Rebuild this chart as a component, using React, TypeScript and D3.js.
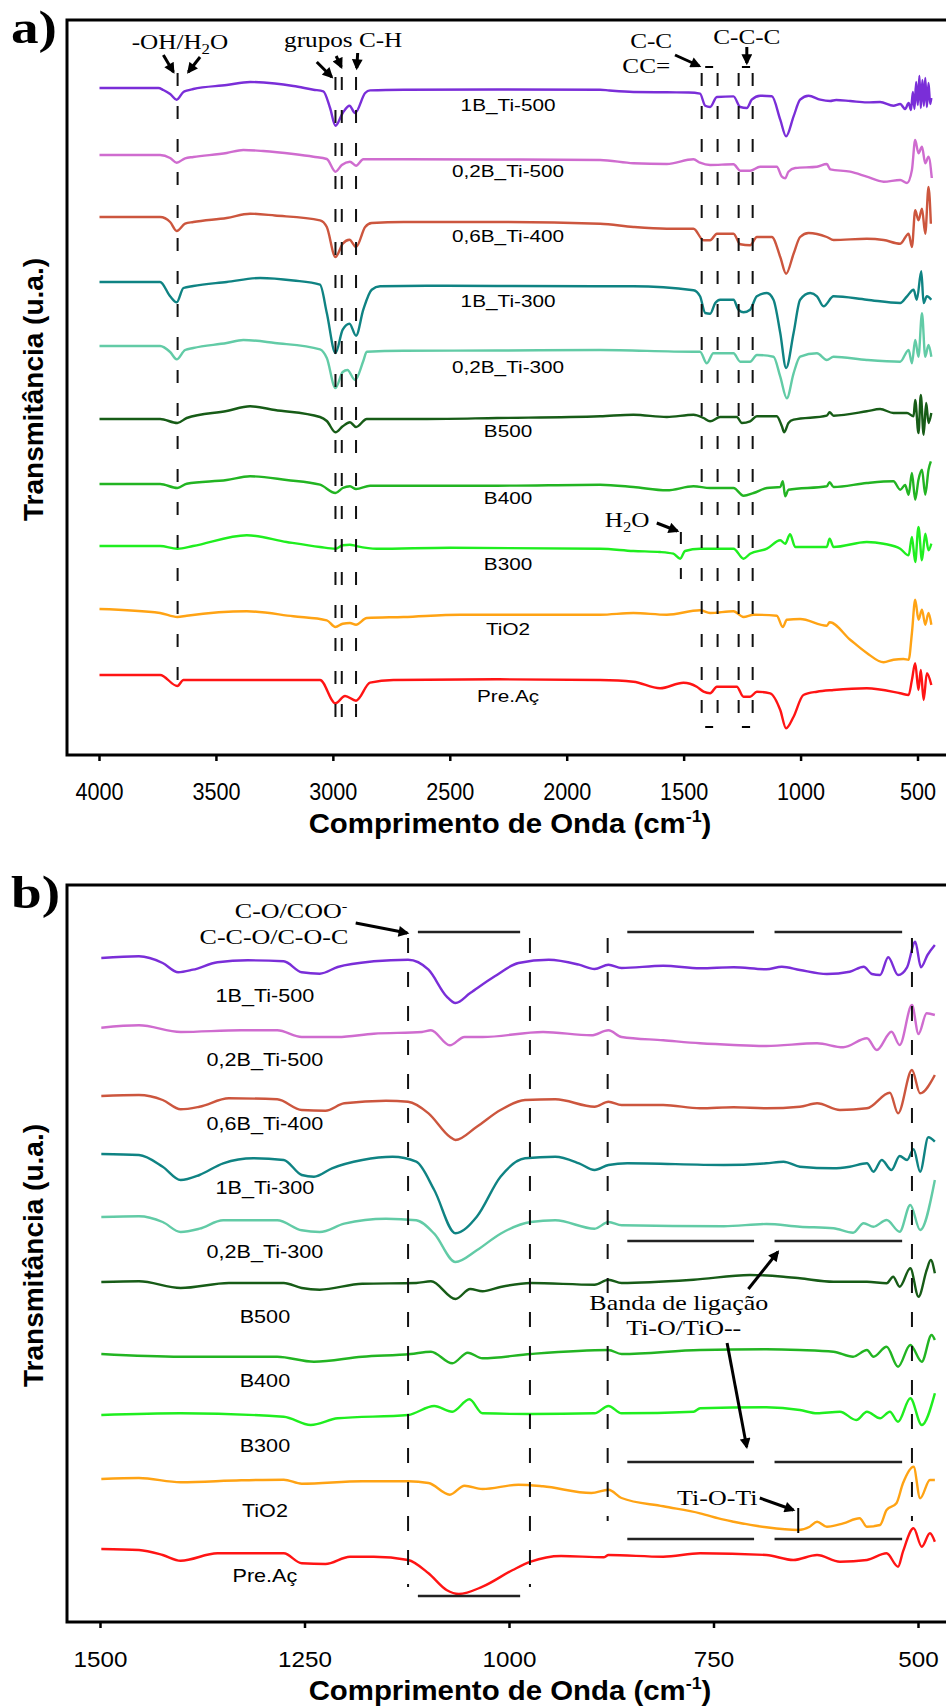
import React from "react";
import * as d3 from "d3";

const W = 946;
const H = 1708;

// sample names, top to bottom, and their line colours
const names = ["1B_Ti-500", "0,2B_Ti-500", "0,6B_Ti-400", "1B_Ti-300", "0,2B_Ti-300", "B500", "B400", "B300", "TiO2", "Pre.Aç"];
const colors = ["#7a2ed8", "#cf6ccf", "#cc563e", "#0f8383", "#62cba6", "#175c17", "#22b422", "#1fee1f", "#ffa314", "#ff1414"];

// vertical stacking offsets (a.u.) of each spectrum
const offsetsA = [667, 600, 538, 473, 409, 336, 271, 209, 146, 80];
const offsetsB = [664, 595, 526, 467, 405, 340, 268, 207, 143, 73];

const ticksA = [4000, 3500, 3000, 2500, 2000, 1500, 1000, 500];
const ticksB = [1500, 1250, 1000, 750, 500];

// panel a: [wavenumber cm-1, transmittance change a.u.]
const spectraA: [number, number][][] = [
  [[4000,0],[3748,0],[3727,-2],[3698,-6],[3670,-11.7],[3641,-4],[3627,-2.7],[3599,-1],[3456,3],[3356,6],[3250,4.5],[3171,2],[3085,-1.7],[3043,-3.3],[3014,-20],[2991,-37.7],[2960,-25],[2931,-17.7],[2907,-25],[2864,-5],[2843,-2.4],[2700,-1.7],[2300,-1.5],[1860,-1.7],[1820,-2.5],[1717,-4],[1574,-4.3],[1480,-4.5],[1432,-5.7],[1410,-17.7],[1389,-19],[1360,-9],[1289,-8.4],[1260,-19],[1232,-20],[1211,-11.7],[1175,-7.7],[1125,-8.3],[1089,-31.7],[1064,-48.4],[1032,-28.4],[1004,-11.7],[968,-7.7],[918,-11.7],[876,-13],[850,-12],[790,-13],[719,-14.4],[662,-14],[605,-17.7],[576,-16],[555,-21],[540,-15],[530,-22],[522,-4],[515,-21],[508,6],[501,-17],[494,12],[488,-20],[481,8],[475,-18],[469,10],[462,-19],[455,5],[448,-16],[443,-10]],
  [[4000,0],[3741,0],[3698,-3],[3670,-7.7],[3634,-3.3],[3599,-2],[3456,2],[3385,5],[3300,4],[3171,1],[3085,-1.7],[3028,-4],[2991,-16.7],[2964,-10],[2929,-6.7],[2903,-10.7],[2872,-4.3],[2700,-4.3],[2300,-4.5],[1859,-5],[1717,-8.3],[1574,-9],[1460,-4.3],[1432,-7.7],[1389,-10],[1289,-9.3],[1260,-15.7],[1218,-15.7],[1175,-11.7],[1104,-11.7],[1082,-21.7],[1068,-23.3],[1054,-16.7],[1025,-13],[932,-11.7],[890,-9],[875,-14.3],[790,-16.7],[719,-21.7],[647,-26.7],[576,-25],[547,-28],[526,-15],[512,15],[498,1.7],[483,8.3],[469,-8.3],[455,-1.7],[441,-23]],
  [[4000,0],[3741,0],[3698,-5],[3670,-14],[3634,-6.7],[3599,-5],[3456,-1],[3356,3.3],[3250,1.5],[3057,-3.3],[3028,-10],[2991,-40],[2960,-26.7],[2931,-22.7],[2903,-30],[2864,-10],[2836,-6],[2700,-5],[2300,-5],[1859,-6.7],[1717,-10],[1574,-11.7],[1460,-11.7],[1417,-23.3],[1389,-23.3],[1360,-16.7],[1289,-16.7],[1260,-27.3],[1218,-28.3],[1189,-20],[1125,-20],[1089,-40],[1064,-56.7],[1032,-36.7],[1004,-20],[968,-16],[890,-20],[861,-23],[719,-21.7],[647,-23],[576,-26.7],[540,-16.7],[526,-30],[512,6.7],[498,-3.3],[483,8.3],[469,-16.7],[455,30],[445,-6.7]],
  [[4000,0],[3741,0],[3698,-14.3],[3670,-20.3],[3641,-6],[3599,-4],[3456,0],[3313,4],[3171,1.5],[3057,-2.7],[3028,-31],[2991,-71],[2960,-47.7],[2931,-41.7],[2903,-53.7],[2872,-27.7],[2836,-7.7],[2800,-4.3],[2600,-3.7],[2300,-4],[1859,-4.3],[1717,-4.3],[1460,-8.3],[1432,-14.3],[1410,-31],[1389,-31.7],[1367,-21],[1346,-17.7],[1289,-17.7],[1268,-27.7],[1246,-30.3],[1218,-27.7],[1189,-14.3],[1146,-11],[1118,-17.7],[1089,-51],[1064,-86],[1032,-51],[1004,-17.7],[961,-11],[932,-14.3],[904,-24.3],[861,-14.3],[719,-17.7],[576,-21],[547,-14.3],[519,-7.7],[505,-17.7],[486,10.7],[476,-21],[462,-14.3],[443,-17.7]],
  [[4000,0],[3741,0],[3698,-6],[3670,-13.3],[3634,-4],[3599,-2],[3456,3],[3385,6],[3250,3],[3057,-3.3],[3028,-12],[2991,-42],[2960,-26],[2940,-24],[2907,-34],[2872,-15],[2857,-5.7],[2700,-4.7],[2300,-4.5],[1859,-4],[1460,-5.7],[1432,-5.7],[1403,-17.3],[1375,-7.3],[1289,-7.3],[1260,-15.7],[1218,-15.7],[1189,-9],[1118,-10.7],[1089,-30.7],[1061,-52.3],[1032,-27.3],[1004,-10.7],[932,-7.3],[890,-14],[861,-10.7],[719,-14],[576,-15.7],[540,-4],[526,-17.3],[512,6],[498,-10.7],[483,32.7],[469,-10.7],[455,1],[443,-10.7]],
  [[4000,0],[3741,0],[3667,-4],[3627,1],[3456,8],[3356,12.7],[3250,9],[3057,2],[3028,-2],[2991,-13.3],[2960,-7.3],[2929,-3.3],[2903,-8],[2857,0],[2600,0],[2300,1],[1859,2.7],[1717,4.3],[1574,2],[1460,4.3],[1417,1],[1389,-2.3],[1346,2],[1275,2],[1253,-4],[1218,-2.3],[1189,2.7],[1104,2.7],[1082,-7.3],[1072,-13.3],[1054,-4],[1032,-0.7],[890,3.3],[878,6.7],[861,3.3],[719,7.7],[662,10],[605,6],[547,6],[519,2.7],[512,19],[498,-14],[488,24],[476,-15.7],[465,16],[455,-4],[443,6]],
  [[4000,0],[3741,0],[3667,-4],[3627,0.3],[3456,4],[3356,7.7],[3200,4],[3057,-0.7],[2991,-9],[2960,-4],[2929,-2.3],[2903,-5],[2843,-1.7],[2300,-1.7],[1859,-0.7],[1717,-3],[1574,-6.3],[1460,-2.3],[1389,-4],[1289,-4],[1246,-11.7],[1203,-9],[1146,-4],[1089,-3],[1078,2.7],[1068,-12.3],[1054,-5.7],[890,-2.3],[878,1.7],[861,-3],[719,1],[605,2.7],[576,-5.7],[555,-1],[540,-10.7],[526,11],[512,-15.7],[498,4.3],[483,14.3],[469,-10.7],[455,14.3],[445,22.7]],
  [[4000,0],[3741,0],[3667,-2.7],[3600,0],[3370,10.7],[3200,4],[3057,-1],[2991,-2.7],[2960,0.7],[2929,1.3],[2903,0],[2815,-2.7],[2500,-1.7],[1859,-2.7],[1717,-5],[1603,-6],[1546,-7.7],[1517,-12.7],[1496,-5],[1432,-2.7],[1289,-2.7],[1246,-12.7],[1218,-7.7],[1146,-2.7],[1089,5.7],[1068,2.3],[1047,11.7],[1025,-1],[890,-1],[878,7.3],[861,-1],[719,4],[647,2.3],[576,-2.7],[540,-9.3],[526,9],[512,-16],[498,19],[483,-14.3],[469,12.3],[455,-4.3],[443,2.3]],
  [[4000,0],[3741,-4],[3667,-8],[3627,-6.7],[3370,-2.3],[3171,-7.3],[3028,-11.3],[2991,-18],[2960,-14.7],[2929,-14],[2903,-15.7],[2857,-9],[2700,-8],[2458,-5.7],[1859,-5.7],[1717,-4],[1574,-5.7],[1432,-1.3],[1389,-4],[1289,-2.3],[1246,-8],[1203,-5.7],[1104,-6.7],[1078,-18],[1061,-10.7],[1004,-10],[890,-16.7],[878,-13.3],[790,-30.7],[719,-44],[647,-53.3],[605,-50.7],[562,-50],[540,-50.7],[526,-24],[512,9.3],[498,-10.7],[483,-0.7],[469,-15.7],[455,-4],[443,-15.7]],
  [[4000,0],[3741,0],[3667,-11],[3641,-5],[3500,-5],[3057,-5],[2991,-28.3],[2950,-21],[2903,-25.7],[2843,-7.7],[2743,-5],[2300,-4.3],[1859,-5],[1717,-6.7],[1603,-13.3],[1503,-7.7],[1446,-11.7],[1417,-16.7],[1389,-18.3],[1360,-11.7],[1275,-11.7],[1246,-21.7],[1218,-21.7],[1189,-16.7],[1132,-18.3],[1089,-35],[1064,-53.3],[1032,-41.7],[990,-20],[932,-16.7],[861,-15],[719,-13.3],[576,-18.3],[540,-20],[526,-5],[512,11.7],[498,-15],[488,5],[476,-25],[462,1.7],[443,-10]],
];

// panel b: 1500-480 cm-1 detail
const spectraB: [number, number][][] = [
  [[1499,0],[1453,1.7],[1424,-5],[1405,-14.3],[1387,-11.7],[1357,-4.3],[1320,-2.3],[1276,-3.3],[1254,-14.3],[1232,-15.7],[1210,-9],[1166,-3.3],[1124,-1.7],[1099,-11.7],[1077,-38.3],[1066,-45],[1048,-35],[1018,-18.3],[989,-5],[952,-1.7],[915,-6.7],[896,-11],[879,-6.7],[863,-10],[812,-7.7],[767,-10.3],[726,-9.3],[686,-11.3],[667,-8.7],[645,-12],[612,-16],[584,-13.7],[567,-8.7],[557,-16],[547,-17],[537,0.7],[525,-17],[514,-9.3],[504,16.3],[497,-9.3],[489,3],[480,13]],
  [[1499,-0.7],[1453,1.7],[1402,-5],[1328,-3.3],[1284,-3.3],[1254,-10],[1210,-10],[1166,-6.7],[1107,-5],[1096,-3.3],[1073,-18.3],[1055,-10],[1033,-10],[959,-5],[900,-8.3],[879,-3.3],[863,-10],[812,-13.3],[767,-16.3],[726,-18],[686,-19],[624,-16.3],[592,-20.3],[563,-11.3],[551,-23],[533,-4.7],[523,-18],[508,22],[500,-7],[490,13.7],[480,12]],
  [[1499,0],[1453,1],[1424,-4],[1402,-13.3],[1379,-10.7],[1343,-2.3],[1284,-3.3],[1254,-14],[1225,-14.7],[1202,-7.3],[1151,-4.7],[1124,-5.7],[1099,-17.3],[1073,-40.7],[1066,-44],[1040,-30.7],[1011,-14],[981,-4],[944,-3.3],[896,-10.7],[879,-5.7],[863,-9],[812,-9],[767,-12.3],[726,-11.3],[686,-12.3],[645,-10.7],[624,-7.3],[596,-14],[563,-12.3],[535,3.3],[525,-17.3],[508,26],[498,2.7],[480,21]],
  [[1499,1],[1453,0],[1424,-11.7],[1402,-25],[1379,-20],[1350,-8.3],[1313,-3.3],[1276,-5],[1254,-20],[1239,-21.7],[1217,-13.3],[1180,-5],[1143,-1.7],[1114,-6.7],[1092,-35],[1066,-78.3],[1040,-61.7],[1011,-21.7],[981,-3.3],[944,-1.7],[915,-8.3],[896,-15],[879,-10],[856,-8.3],[738,-10],[686,-8.3],[665,-6.7],[645,-11.7],[604,-13.3],[584,-11.7],[563,-8.3],[555,-16.7],[545,-5],[533,-15],[523,-1],[514,-5],[506,5.7],[498,-16.7],[488,17.7],[480,13.3]],
  [[1499,0],[1453,0.7],[1424,-5],[1402,-15],[1379,-11.7],[1350,-3.3],[1284,-3.3],[1254,-13.3],[1232,-15],[1202,-6.7],[1151,-1.7],[1114,-3.3],[1092,-16.7],[1066,-45],[1040,-33.3],[1011,-16.7],[974,-5],[944,-3.3],[896,-11.7],[879,-5],[863,-8.3],[738,-9.3],[686,-7],[645,-9.7],[604,-11.3],[580,-15.7],[567,-6.3],[555,-9.7],[539,-3],[523,-14.7],[510,12],[498,-13],[480,37]],
  [[1499,0],[1453,0.7],[1402,-6],[1343,-1],[1276,-1],[1254,-6],[1232,-7.7],[1180,-1.7],[1114,-1],[1096,0.7],[1066,-17],[1048,-7],[1033,-9.3],[1011,-5],[974,-1],[896,-2.7],[879,2.3],[863,-1],[775,2.3],[706,7],[665,5.3],[645,3.7],[604,0.3],[563,0.3],[539,-1.3],[531,5.3],[523,-4.7],[510,13.7],[500,-14.7],[490,12],[485,22],[480,8.7]],
  [[1499,0],[1402,-2.7],[1284,-2.7],[1239,-7.7],[1180,-2.7],[1121,0],[1096,2.3],[1070,-9.3],[1051,1.3],[1033,-4.3],[974,0],[879,4],[863,0],[767,4],[686,4.7],[645,4],[604,2.3],[580,-2.7],[563,4],[555,-2.7],[539,7.3],[525,-12.7],[510,9],[496,-7.7],[484,19],[480,14]],
  [[1499,0],[1402,1.7],[1276,-1.7],[1243,-10],[1210,-3.3],[1124,0],[1092,9],[1070,3.3],[1049,15.7],[1033,1.7],[974,1],[896,1.7],[879,9],[863,1.7],[775,3.3],[767,6.7],[686,7.7],[645,5],[624,1.7],[596,3.3],[576,-5],[563,3.3],[547,-3.3],[535,3.3],[525,-6.7],[510,16.7],[496,-10],[480,21.7]],
  [[1499,0],[1453,1],[1402,-3.3],[1328,-1.3],[1276,-0.7],[1254,-4.7],[1180,-2.3],[1124,-2.3],[1099,-4],[1073,-15.7],[1055,-6.7],[1033,-10],[989,-5.7],[959,-7.3],[900,-14],[879,-10.7],[863,-19],[812,-27.3],[767,-34.3],[738,-40.7],[726,-42.7],[686,-48.3],[647,-51],[633,-47.7],[624,-42.7],[612,-47.7],[592,-44.3],[572,-39.3],[563,-47.7],[547,-46],[539,-31],[527,-24.3],[519,-4.3],[506,12.3],[498,-19.3],[486,-1],[480,-1]],
  [[1499,0],[1453,-1],[1424,-6],[1402,-11.7],[1357,-4.3],[1276,-4.3],[1254,-14.3],[1225,-15],[1195,-7.7],[1166,-7.7],[1124,-11],[1099,-24.3],[1077,-41],[1062,-45],[1033,-37.7],[996,-21],[974,-12.7],[937,-7],[885,-8.3],[879,-6],[812,-7.7],[767,-4.3],[686,-6],[653,-11],[624,-6],[596,-12.7],[563,-11],[539,-4.3],[525,-17.7],[519,-2.7],[506,20.7],[496,2.3],[486,15.7],[480,7.3]],
];

// band marker lines (wavenumber, a.u. from, a.u. to)
const bandsA: [number, number, number][] = [
  [3666, 682, 68], [2991, 678, 35], [2964, 678, 35], [2903, 678, 35],
  [1425, 682, 33], [1357, 682, 33], [1267, 682, 33], [1207, 682, 33],
];
const bandsB: [number, number, number][] = [[1124, 684, 35], [975, 684, 35], [880, 684, 101], [508, 684, 101]];
const rangesB: [number, number, number][] = [
  [1112, 987, 690], [856, 701, 690], [676, 520, 690],
  [856, 701, 381], [676, 520, 381],
  [856, 701, 160], [676, 520, 160],
  [856, 701, 83], [676, 520, 83],
  [1112, 987, 26],
];

const xA = d3.scaleLinear().domain([4000, 500]).range([99.5, 918]);
const yA = d3.scaleLinear().domain([0, 735]).range([755, 20]);
const xB = d3.scaleLinear().domain([1500, 500]).range([100.5, 918.5]);
const yB = d3.scaleLinear().domain([0, 737]).range([1622, 885]);

const labelDyA = [23, 22, 25, 25, 27, 18, 20, 24, 26, 27];
const labelDyB = [44, 39, 34, 39, 41, 41, 33, 37, 38, 33];

const SANS = "'Liberation Sans', Arial, sans-serif";
const SERIF = "'Liberation Serif', 'Times New Roman', serif";

const Txt = ({ x, y, size, sx = 1, family = SANS, weight = "normal", anchor = "middle", children }: any) => (
  <text transform={`translate(${x},${y}) scale(${sx},1)`} fontSize={size} fontFamily={family} fontWeight={weight} textAnchor={anchor} fill="#000">
    {children}
  </text>
);

const Arrow = ({ x1, y1, x2, y2 }: any) => (
  <line x1={x1} y1={y1} x2={x2} y2={y2} stroke="#000" strokeWidth={3} markerEnd="url(#ah)" />
);

function Panel({ x, y, spectra, offsets, ticks, labelW, labelDy, labelSx, labelSize, tickSx, tickSize, top, bottom, letter }: any) {
  const line = d3.line<[number, number]>().x((d) => x(d[0])).y((d) => y(d[1])).curve(d3.curveMonotoneX);
  return (
    <g>
      <rect x={67} y={top} width={920} height={bottom - top} fill="none" stroke="#000" strokeWidth={3} />
      {ticks.map((t: number) => (
        <g key={t}>
          <line x1={x(t)} x2={x(t)} y1={bottom} y2={bottom + 6} stroke="#000" strokeWidth={2.5} />
          <Txt x={x(t)} y={bottom + 45} size={tickSize} sx={tickSx}>{t}</Txt>
        </g>
      ))}
      {spectra.map((s: [number, number][], i: number) => (
        <path key={i} d={line(s.map(([w, v]) => [w, offsets[i] + v]) as [number, number][]) || ""} fill="none" stroke={colors[i]} strokeWidth={2.4} strokeLinejoin="round" />
      ))}
      {names.map((n, i) => (
        <Txt key={n} x={x(labelW)} y={y(offsets[i]) + labelDy[i]} size={labelSize} sx={labelSx}>{n}</Txt>
      ))}
      <Txt x={510} y={bottom + 78} size={28} sx={1.05} weight="bold">
        Comprimento de Onda (cm<tspan dy={-11} fontSize={17}>-1</tspan><tspan dy={11}>)</tspan>
      </Txt>
      <text transform={`translate(43,${(top + bottom) / 2 + 2}) rotate(-90)`} fontSize={28} fontFamily={SANS} fontWeight="bold" textAnchor="middle">
        Transmitância (u.a.)
      </text>
      <Txt x={11} y={top + 23} size={46} sx={1.2} family={SERIF} weight="bold" anchor="start">{letter}</Txt>
    </g>
  );
}

export default function App() {
  const serifA = { family: SERIF, size: 21, sx: 1.2 };
  const serifB = { family: SERIF, size: 20, sx: 1.3 };
  return (
    <svg width={W} height={H} viewBox={`0 0 ${W} ${H}`} style={{ position: "absolute", left: 0, top: 0, background: "#fff" }}>
      <defs>
        <marker id="ah" viewBox="0 0 10 10" refX="8" refY="5" markerWidth="4" markerHeight="3.6" orient="auto">
          <path d="M0,0L10,5L0,10z" fill="#000" />
        </marker>
      </defs>
      <Panel x={xA} y={yA} spectra={spectraA} offsets={offsetsA} ticks={ticksA} labelW={2253} labelDy={labelDyA} labelSx={1.22} labelSize={17} tickSx={0.9} tickSize={24} top={20} bottom={755} letter="a)" />
      <Panel x={xB} y={yB} spectra={spectraB} offsets={offsetsB} ticks={ticksB} labelW={1299} labelDy={labelDyB} labelSx={1.2} labelSize={18} tickSx={1.1} tickSize={22} top={885} bottom={1622} letter="b)" />

      {/* panel a band markers */}
      {bandsA.map(([w, a, b], i) => (
        <line key={i} x1={xA(w)} x2={xA(w)} y1={yA(a)} y2={yA(b)} stroke="#111" strokeWidth={2} strokeDasharray="13 20" />
      ))}
      <line x1={xA(1514)} x2={xA(1514)} y1={yA(223)} y2={yA(176)} stroke="#111" strokeWidth={2} strokeDasharray="12 24" />
      {[[1410, 1376], [1253, 1218]].map(([a, b], i) => (
        <g key={i}>
          <line x1={xA(a)} x2={xA(b)} y1={yA(688)} y2={yA(688)} stroke="#000" strokeWidth={2} />
          <line x1={xA(a)} x2={xA(b)} y1={yA(28)} y2={yA(28)} stroke="#000" strokeWidth={2} />
        </g>
      ))}
      <Txt x={xA(3656)} y={yA(706)} {...serifA}>-OH/H<tspan dy={5} fontSize={14}>2</tspan><tspan dy={-5}>O</tspan></Txt>
      <Txt x={xA(2958)} y={yA(708)} {...serifA}>grupos C-H</Txt>
      <Txt x={xA(1641)} y={yA(707)} {...serifA}>C-C</Txt>
      <Txt x={xA(1662)} y={yA(682)} {...serifA}>CC=</Txt>
      <Txt x={xA(1232)} y={yA(711)} {...serifA}>C-C-C</Txt>
      <Txt x={xA(1744)} y={yA(228)} {...serifA}>H<tspan dy={5} fontSize={14}>2</tspan><tspan dy={-5}>O</tspan></Txt>
      <Arrow x1={xA(3727)} y1={yA(700)} x2={xA(3684)} y2={yA(683)} />
      <Arrow x1={xA(3570)} y1={yA(698)} x2={xA(3620)} y2={yA(683)} />
      <Arrow x1={xA(3071)} y1={yA(693)} x2={xA(3007)} y2={yA(678)} />
      <Arrow x1={xA(2988)} y1={yA(699)} x2={xA(2966)} y2={yA(688)} />
      <Arrow x1={xA(2896)} y1={yA(702)} x2={xA(2900)} y2={yA(687)} />
      <Arrow x1={xA(1539)} y1={yA(700)} x2={xA(1435)} y2={yA(689)} />
      <Arrow x1={xA(1232)} y1={yA(708)} x2={xA(1232)} y2={yA(692)} />
      <Arrow x1={xA(1617)} y1={yA(232)} x2={xA(1529)} y2={yA(224)} />

      {/* panel b band markers */}
      {bandsB.map(([w, a, b], i) => (
        <line key={i} x1={xB(w)} x2={xB(w)} y1={yB(a)} y2={yB(b)} stroke="#111" strokeWidth={2} strokeDasharray="15 19" />
      ))}
      {rangesB.map(([a, b, v], i) => (
        <line key={i} x1={xB(a)} x2={xB(b)} y1={yB(v)} y2={yB(v)} stroke="#222" strokeWidth={2.5} />
      ))}
      <line x1={xB(647)} x2={xB(647)} y1={yB(114)} y2={yB(89)} stroke="#000" strokeWidth={2} />
      <Txt x={xB(1267)} y={yB(704)} {...serifB}>C-O/COO<tspan dy={-8} fontSize={13}>-</tspan></Txt>
      <Txt x={xB(1288)} y={yB(678)} {...serifB}>C-C-O/C-O-C</Txt>
      <Txt x={xB(793)} y={yB(312)} {...serifB}>Banda de ligação</Txt>
      <Txt x={xB(787)} y={yB(287)} {...serifB}>Ti-O/TiO--</Txt>
      <Txt x={xB(746)} y={yB(117)} {...serifB}>Ti-O-Ti</Txt>
      <Arrow x1={xB(1188)} y1={yB(699)} x2={xB(1125)} y2={yB(689)} />
      <Arrow x1={xB(708)} y1={yB(333)} x2={xB(672)} y2={yB(370)} />
      <Arrow x1={xB(734)} y1={yB(279)} x2={xB(710)} y2={yB(175)} />
      <Arrow x1={xB(694)} y1={yB(124)} x2={xB(653)} y2={yB(112)} />
    </svg>
  );
}
